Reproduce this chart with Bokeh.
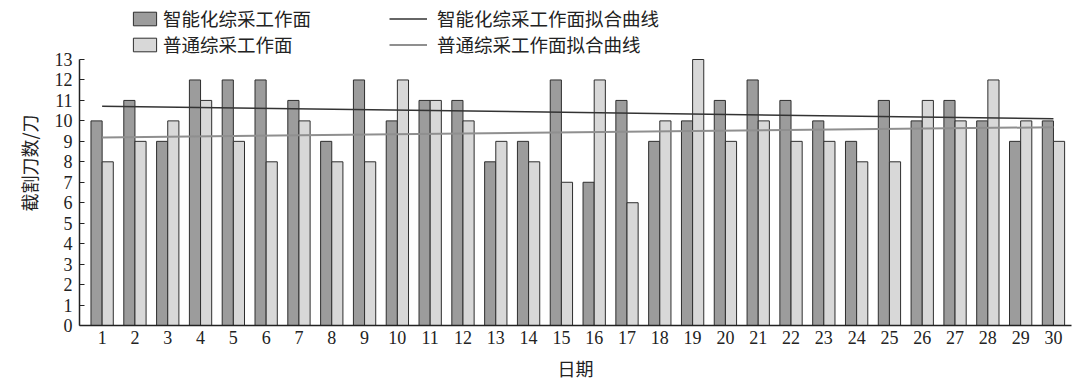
import numpy as np
from bokeh.plotting import figure
from bokeh.models import (ColumnDataSource, Range1d, FixedTicker, Legend, LegendItem)
from bokeh.transform import dodge
from bokeh.embed import file_html
from bokeh.resources import INLINE

# ---- data ----
days = list(range(1, 31))
smart = [10, 11, 9, 12, 12, 12, 11, 9, 12, 10, 11, 11, 8, 9, 12,
         7, 11, 9, 10, 11, 12, 11, 10, 9, 11, 10, 11, 10, 9, 10]
normal = [8, 9, 10, 11, 9, 8, 10, 8, 8, 12, 11, 10, 9, 8, 7,
          12, 6, 10, 13, 9, 10, 9, 9, 8, 8, 11, 10, 12, 10, 9]
fit_days = [1, 30]
fit_smart = [10.72, 10.10]
fit_normal = [9.19, 9.69]
y_ticks = list(range(0, 14))

name_smart = "智能化综采工作面"
name_normal = "普通综采工作面"
name_fit_smart = "智能化综采工作面拟合曲线"
name_fit_normal = "普通综采工作面拟合曲线"

CJK = "Noto Sans CJK SC"
SERIF = "Liberation Serif"

src = ColumnDataSource(dict(day=days, smart=smart, normal=normal))
fit_src = ColumnDataSource(dict(day=fit_days, smart=fit_smart, normal=fit_normal))

# frame spans the full top so the legend (drawn inside the frame) is not clipped;
# the y axis itself is bounded to 0..13
p = figure(width=1080, height=390, output_backend="svg", toolbar_location=None,
           x_range=Range1d(0.31, 30.55), y_range=Range1d(0, 13 * 325 / 266),
           min_border_left=79, min_border_right=9, min_border_top=0,
           min_border_bottom=65)
p.outline_line_color = None
p.xgrid.grid_line_color = None
p.ygrid.grid_line_color = None
p.background_fill_color = "white"

r1 = p.vbar(x=dodge("day", -0.17, range=p.x_range), top="smart", width=0.34, source=src,
            fill_color="#9c9c9c", line_color="#2e2e2e", line_width=1)
r2 = p.vbar(x=dodge("day", 0.17, range=p.x_range), top="normal", width=0.34, source=src,
            fill_color="#d8d8d8", line_color="#2e2e2e", line_width=1)
l1 = p.line(x="day", y="smart", source=fit_src, line_color="#333333", line_width=1.5)
l2 = p.line(x="day", y="normal", source=fit_src, line_color="#8f8f8f", line_width=2)

# axes
xa = p.xaxis[0]
xa.ticker = FixedTicker(ticks=days)
xa.major_tick_in = 0
xa.major_tick_out = 0
xa.minor_tick_line_color = None
xa.axis_line_color = "#222222"
xa.axis_line_width = 1.5
xa.major_label_text_font = SERIF
xa.major_label_text_font_size = "18px"
xa.major_label_text_color = "#222222"
xa.major_label_standoff = 5
xa.axis_label = "日期"
xa.axis_label_text_font = CJK
xa.axis_label_text_font_style = "normal"
xa.axis_label_text_font_size = "18px"
xa.axis_label_text_color = "#222222"
xa.axis_label_standoff = 8

ya = p.yaxis[0]
ya.ticker = FixedTicker(ticks=y_ticks)
ya.bounds = (0, 13)
ya.major_tick_in = 5
ya.major_tick_out = 0
ya.minor_tick_line_color = None
ya.axis_line_color = "#222222"
ya.axis_line_width = 1.5
ya.major_tick_line_color = "#222222"
ya.major_label_text_font = SERIF
ya.major_label_text_font_size = "18px"
ya.major_label_text_color = "#222222"
ya.major_label_standoff = 7
ya.axis_label = "截割刀数/刀"
ya.axis_label_text_font = CJK
ya.axis_label_text_font_style = "normal"
ya.axis_label_text_font_size = "18px"
ya.axis_label_text_color = "#222222"
ya.axis_label_standoff = 10

def make_legend(label, renderer, loc, gw, standoff):
    return Legend(items=[LegendItem(label=label, renderers=[renderer])],
                  location=loc, orientation="vertical",
                  background_fill_alpha=0, border_line_alpha=0,
                  padding=0, margin=0, spacing=0,
                  glyph_width=gw, glyph_height=17, label_height=20,
                  label_standoff=standoff,
                  label_text_font=CJK, label_text_font_size="18.5px",
                  label_text_color="#222222")

for lg in [make_legend(name_smart, r1, (51, 294), 29, 4),
           make_legend(name_normal, r2, (51, 268), 29, 4),
           make_legend(name_fit_smart, l1, (310, 294), 38, 10),
           make_legend(name_fit_normal, l2, (310, 268), 38, 10)]:
    p.add_layout(lg, "center")

open("out.html", "w").write(file_html(p, INLINE))
